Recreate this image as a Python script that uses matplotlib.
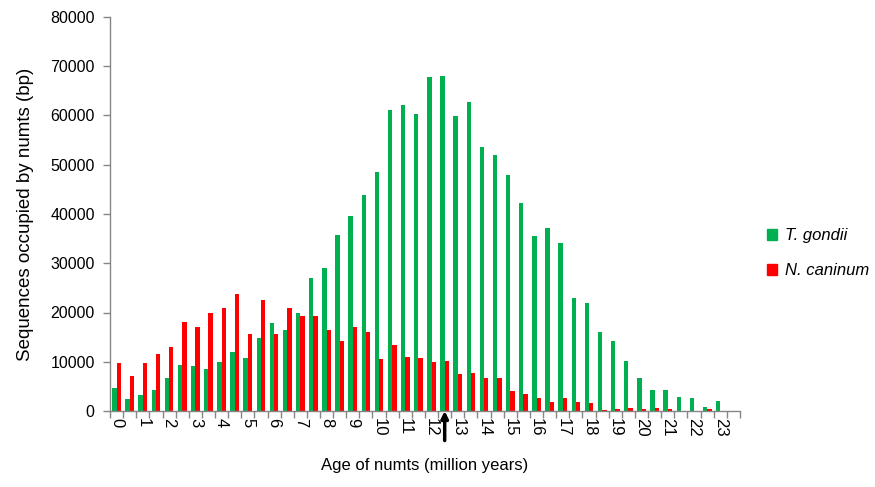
import matplotlib.pyplot as plt
import numpy as np
from matplotlib.patches import Patch

# age classes, half a million years wide; only whole years get a label
ages = [i * 0.5 for i in range(48)]
tick_labels = [str(i) for i in range(24)]

t_gondii = [4600, 2400, 3200, 4300, 6600, 9300, 9100, 8500, 9900, 11900,
            10800, 14800, 17800, 16400, 20000, 27100, 29000, 35700, 39500, 43900,
            48600, 61100, 62100, 60400, 67900, 68100, 59900, 62700, 53700, 52000,
            47900, 42200, 35500, 37200, 34100, 22900, 22000, 16100, 14200, 10200,
            6800, 4300, 4300, 2900, 2600, 900, 2100, 0]
n_caninum = [9700, 7100, 9700, 11600, 13000, 18100, 17000, 19800, 20900, 23700,
             15600, 22500, 15600, 20900, 19200, 19200, 16400, 14200, 17000, 16100,
             10500, 13400, 11000, 10800, 10000, 10200, 7500, 7700, 6600, 6800,
             4100, 3500, 2600, 1800, 2600, 1800, 1600, 200, 400, 700,
             400, 700, 400, 100, 0, 400, 0, 0]

arrow_age = 12.5

GREEN = '#00B050'
RED = '#FF0000'
AXIS = '#868686'

plt.rcParams['font.family'] = ['Liberation Sans', 'DejaVu Sans']

fig = plt.figure(figsize=(8.75, 4.87), dpi=100)
ax = fig.add_axes([110 / 875, 1 - 411 / 487, 630 / 875, 394 / 487])

idx = np.arange(len(ages))
w = 0.33
ax.bar(idx - w / 2, t_gondii, width=w, color=GREEN, linewidth=0)
ax.bar(idx + w / 2, n_caninum, width=w, color=RED, linewidth=0)

ax.set_xlim(-0.5, len(ages) - 0.5)
ax.set_ylim(0, 80000)
ax.set_yticks(range(0, 80001, 10000))

# labels on whole years, tick marks between the categories
ax.set_xticks([i for i, a in enumerate(ages) if a == int(a)])
ax.set_xticklabels(tick_labels, rotation=270, fontsize=12)
ax.tick_params(axis='x', which='major', length=0, pad=5)
ax.set_xticks(np.arange(-0.5, len(ages)), minor=True)
ax.tick_params(axis='x', which='minor', length=5, color=AXIS, width=1)
ax.tick_params(axis='y', length=5, color=AXIS, width=1, labelsize=11.5, pad=6)

for s in ['top', 'right']:
    ax.spines[s].set_visible(False)
for s in ['left', 'bottom']:
    ax.spines[s].set_color(AXIS)
    ax.spines[s].set_linewidth(1)

ax.set_xlabel('Age of numts (million years)', fontsize=12, labelpad=15)
ax.set_ylabel('Sequences occupied by numts (bp)', fontsize=13.5, labelpad=12)

ax.annotate('', xy=(ages.index(arrow_age), 0), xytext=(ages.index(arrow_age), -6000),
            arrowprops=dict(arrowstyle='-|>', color='black', lw=2.5, mutation_scale=10,
                            shrinkA=0, shrinkB=0),
            annotation_clip=False)

handles = [Patch(color=GREEN, label='T. gondii'), Patch(color=RED, label='N. caninum')]
fig.legend(handles=handles, loc='center left', bbox_to_anchor=(0.869, 0.48),
           frameon=False, handlelength=0.6, handleheight=0.6, labelspacing=1.2,
           handletextpad=0.5, borderaxespad=0, prop={'style': 'italic', 'size': 12})

fig.savefig('out.png', dpi=100)
